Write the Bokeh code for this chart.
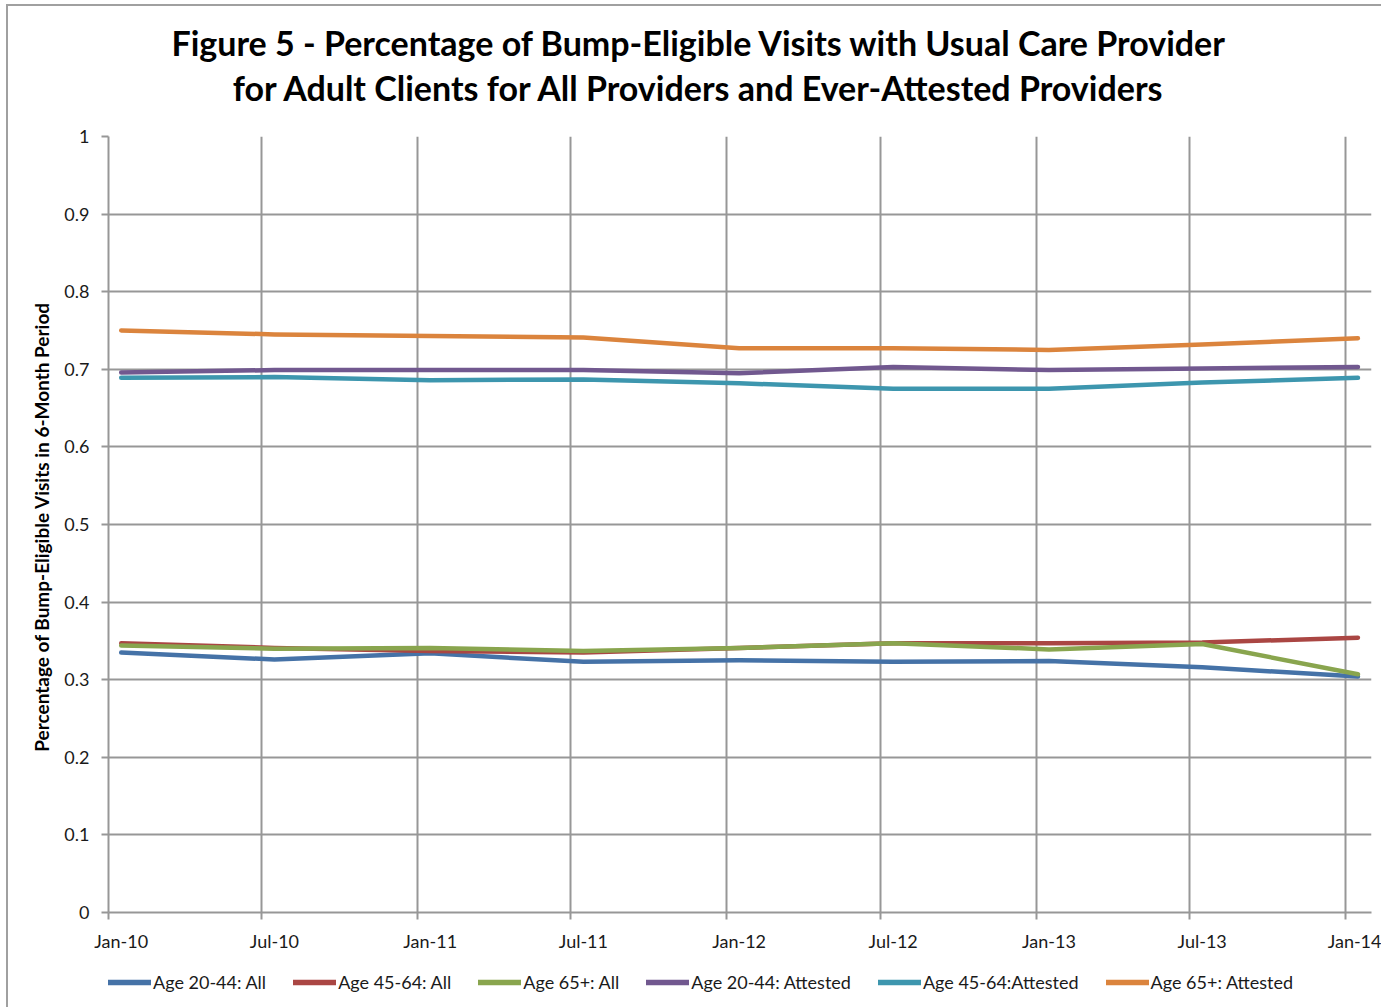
from datetime import datetime
from bokeh.plotting import figure
from bokeh.layouts import column
from bokeh.models import (FixedTicker, CustomJSTickFormatter, Legend,
                          LegendItem, Range1d, Label)
from bokeh.embed import file_html
from bokeh.resources import INLINE

# ---------------- data ----------------
period_year = [2010, 2010, 2011, 2011, 2012, 2012, 2013, 2013, 2014]
period_month = [1, 7, 1, 7, 1, 7, 1, 7, 1]
tick_labels = ["Jan-10", "Jul-10", "Jan-11", "Jul-11", "Jan-12",
               "Jul-12", "Jan-13", "Jul-13", "Jan-14"]
y_ticks = [0, 0.1, 0.2, 0.3, 0.4, 0.5, 0.6, 0.7, 0.8, 0.9, 1.0]

age_20_44_all = [0.335, 0.326, 0.334, 0.323, 0.325, 0.323, 0.324, 0.316, 0.304]
age_45_64_all = [0.347, 0.341, 0.337, 0.335, 0.341, 0.347, 0.347, 0.348, 0.354]
age_65_all = [0.344, 0.340, 0.341, 0.337, 0.341, 0.347, 0.339, 0.346, 0.307]
age_20_44_att = [0.696, 0.699, 0.699, 0.699, 0.695, 0.703, 0.699, 0.701, 0.703]
age_45_64_att = [0.689, 0.690, 0.686, 0.687, 0.682, 0.675, 0.675, 0.683, 0.689]
age_65_att = [0.750, 0.745, 0.743, 0.741, 0.727, 0.727, 0.725, 0.732, 0.740]

series_names = ["Age 20-44: All", "Age 45-64: All", "Age 65+: All",
                "Age 20-44: Attested", "Age 45-64:Attested", "Age 65+: Attested"]
series_values = [age_20_44_all, age_45_64_all, age_65_all,
                 age_20_44_att, age_45_64_att, age_65_att]
series_colors = ["#4572A7", "#AA4643", "#89A54E", "#71588F", "#3D96AE", "#DB843D"]

title_lines = ["Figure 5 - Percentage of Bump-Eligible Visits with Usual Care Provider",
               "for Adult Clients for All Providers and Ever-Attested Providers"]
y_title = "Percentage of Bump-Eligible  Visits in 6-Month Period"

# ---------------- helpers ----------------
EPOCH = datetime(1970, 1, 1)


def ms(d):
    return (d - EPOCH).total_seconds() * 1000.0


grid_ms = [ms(datetime(y, m, 1)) for y, m in zip(period_year, period_month)]
x_points = [datetime(y, m, 16) for y, m in zip(period_year, period_month)]
label_ms = [ms(d) for d in x_points]

FONT = "Lato"
GRID = "#979797"
W = 1373


def blank_panel(h):
    f = figure(width=W, height=h, output_backend="svg", toolbar_location=None,
               x_axis_location=None, y_axis_location=None,
               x_range=Range1d(0, 1), y_range=Range1d(0, 1),
               min_border=0, min_border_left=0, min_border_right=0,
               min_border_top=0, min_border_bottom=0)
    f.outline_line_color = None
    f.xgrid.visible = False
    f.ygrid.visible = False
    f.background_fill_color = "white"
    f.border_fill_color = "white"
    return f


# ---------------- title panel ----------------
tf = blank_panel(118)
tf.add_layout(Label(x=591, y=82, x_units="screen", y_units="screen",
                    text=title_lines[0], text_align="center",
                    text_baseline="alphabetic", text_font=FONT,
                    text_font_style="bold", text_font_size="34px",
                    text_color="black"))
tf.add_layout(Label(x=591, y=37, x_units="screen", y_units="screen",
                    text=title_lines[1], text_align="center",
                    text_baseline="alphabetic", text_font=FONT,
                    text_font_style="bold", text_font_size="34px",
                    text_color="black"))

# ---------------- main plot ----------------
p = figure(frame_width=1263, frame_height=776, output_backend="svg",
           toolbar_location=None, x_axis_type="datetime",
           x_range=Range1d(datetime(2010, 1, 1), datetime(2014, 2, 1)),
           y_range=Range1d(0, 1),
           min_border_left=100, min_border_right=10,
           min_border_top=12, min_border_bottom=50)
p.outline_line_color = None
p.background_fill_color = "white"
p.border_fill_color = "white"

p.xaxis.ticker = FixedTicker(ticks=label_ms, minor_ticks=grid_ms)
p.xaxis.major_label_overrides = {t: lab for t, lab in zip(label_ms, tick_labels)}
p.xaxis.major_tick_line_color = None
p.xaxis.minor_tick_line_color = GRID
p.xaxis.minor_tick_line_width = 2
p.xaxis.minor_tick_in = 0
p.xaxis.minor_tick_out = 7
p.xaxis.major_tick_out = 7
p.xaxis.major_tick_in = 0

p.yaxis.ticker = FixedTicker(ticks=y_ticks)
p.yaxis.formatter = CustomJSTickFormatter(
    code="return tick.toFixed(1).replace(/\\.0$/, '');")
p.yaxis.major_tick_line_color = GRID
p.yaxis.major_tick_line_width = 2
p.yaxis.major_tick_in = 0
p.yaxis.major_tick_out = 7
p.yaxis.minor_tick_line_color = None
for ax in (p.xaxis, p.yaxis):
    ax.axis_line_color = GRID
    ax.axis_line_width = 2
    ax.major_label_text_font = FONT
    ax.major_label_text_font_size = "18px"
    ax.major_label_text_color = "#1a1a1a"
p.xaxis.major_label_standoff = 10
p.yaxis.major_label_standoff = 12

p.yaxis.axis_label = y_title
p.yaxis.axis_label_text_font = FONT
p.yaxis.axis_label_text_font_style = "bold"
p.yaxis.axis_label_text_font_size = "19px"
p.yaxis.axis_label_text_color = "black"
p.yaxis.axis_label_standoff = 8

for g in (p.xgrid, p.ygrid):
    g.grid_line_color = GRID
    g.grid_line_width = 2
p.xgrid.ticker = FixedTicker(ticks=grid_ms)
p.ygrid.ticker = FixedTicker(ticks=y_ticks)

for name, vals, col in zip(series_names, series_values, series_colors):
    p.line(x_points, vals, line_color=col, line_width=4.5, line_join="round",
           line_cap="round")

# ---------------- legend panel ----------------
# the legend panel's own (out-of-view) copies of the series serve as legend proxies
lf = blank_panel(45)
items = []
for name, vals, col in zip(series_names, series_values, series_colors):
    r = lf.line(x=[-10.0 - i for i in range(len(vals))], y=vals, line_color=col,
                line_width=5.5, line_cap="round")
    items.append(LegendItem(label=name, renderers=[r]))
legend = Legend(items=items, orientation="horizontal", location=(0, 14),
                glyph_width=43, glyph_height=20, label_standoff=2, spacing=27,
                padding=0, margin=0, border_line_color=None,
                background_fill_alpha=0, label_text_font=FONT,
                label_text_font_size="18px", label_text_color="#1a1a1a",
                label_height=20)
lf.add_layout(legend, "center")

layout = column(tf, p, lf, spacing=0,
                styles={"border-left": "2px solid #a0a0a0",
                        "border-top": "2px solid #a0a0a0",
                        "margin-left": "6px", "margin-top": "4px"})

open("out.html", "w").write(file_html(layout, INLINE))
